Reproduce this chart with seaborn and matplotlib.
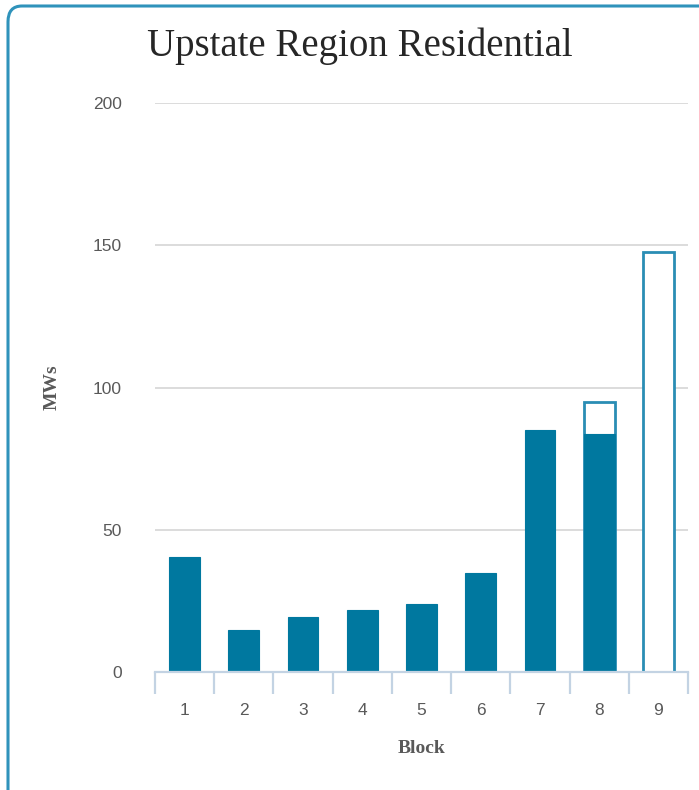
import matplotlib
matplotlib.use("Agg")
import matplotlib.pyplot as plt
from matplotlib.patches import FancyBboxPatch
import seaborn as sns
import pandas as pd
import numpy as np

blocks = ["1", "2", "3", "4", "5", "6", "7", "8", "9"]
existing = [40.5, 14.8, 19.4, 21.8, 24.0, 34.9, 85.2, 83.8, 0.0]
additional = [0.0, 0.0, 0.0, 0.0, 0.0, 0.0, 0.0, 11.2, 147.5]
y_ticks = [0, 50, 100, 150, 200]

title = "Upstate Region Residential"
x_label = "Block"
y_label = "MWs"

teal = "#00789f"
edge_teal = "#2a8db4"
grid_col = "#d9d9d9"
axis_col = "#c3d3e3"
text_gray = "#595959"

sns.set_theme(style="white")
plt.rcParams["font.family"] = ["Liberation Serif", "DejaVu Serif"]

df = pd.DataFrame({"block": blocks, "existing": existing, "additional": additional})
df["total"] = df["existing"] + df["additional"]
outline = df[df["additional"] > 0]
filled = df[df["existing"] > 0]

fig = plt.figure(figsize=(6.99, 7.90), dpi=100)
ax = fig.add_axes([155 / 699, (790 - 672) / 790, (688 - 155) / 699, (672 - 103) / 790])

sns.barplot(data=outline, x="block", y="total", order=blocks, color="white",
            edgecolor=edge_teal, linewidth=2.0, width=0.52, ax=ax, saturation=1, zorder=3)
sns.barplot(data=filled, x="block", y="existing", order=blocks, color=teal,
            edgecolor=teal, linewidth=0.8, width=0.52, ax=ax, saturation=1, zorder=4)

ax.set_ylim(0, 200)
ax.set_xlim(-0.5, len(blocks) - 0.5)
ax.set_yticks(y_ticks)
ax.yaxis.grid(True, color=grid_col, linewidth=1.3)
ax.set_axisbelow(True)

for s in ["left", "right", "top"]:
    ax.spines[s].set_visible(False)
ax.spines["bottom"].set_color(axis_col)
ax.spines["bottom"].set_linewidth(1.6)
ax.spines["bottom"].set_zorder(5)

ax.tick_params(axis="y", length=0, pad=24, labelsize=12.5, labelcolor=text_gray)
ax.tick_params(axis="x", which="major", length=0, pad=22, labelsize=12.5, labelcolor=text_gray)
ax.set_xticks(np.arange(-0.5, len(blocks), 1.0), minor=True)
ax.tick_params(axis="x", which="minor", bottom=True, length=16, width=1.6,
               color=axis_col, direction="out")
for lab in ax.get_xticklabels() + ax.get_yticklabels():
    lab.set_family(["Liberation Sans", "DejaVu Sans"])

ax.set_xlabel(x_label, fontsize=14, fontweight="bold", color=text_gray, labelpad=16)
ax.set_ylabel(y_label, fontsize=14, fontweight="bold", color=text_gray, labelpad=23)

fig.text(360 / 699, 1 - 46 / 790, title, ha="center", va="center",
         fontsize=28, color="#262626")

border = FancyBboxPatch((8 / 699, -0.2), 1.3, 1.2 - 6 / 790,
                        boxstyle="round,pad=0,rounding_size=0.02",
                        transform=fig.transFigure, facecolor="none",
                        edgecolor="#2f93bb", linewidth=2.2, clip_on=False)
fig.patches.append(border)

fig.savefig("out.png", dpi=100)
